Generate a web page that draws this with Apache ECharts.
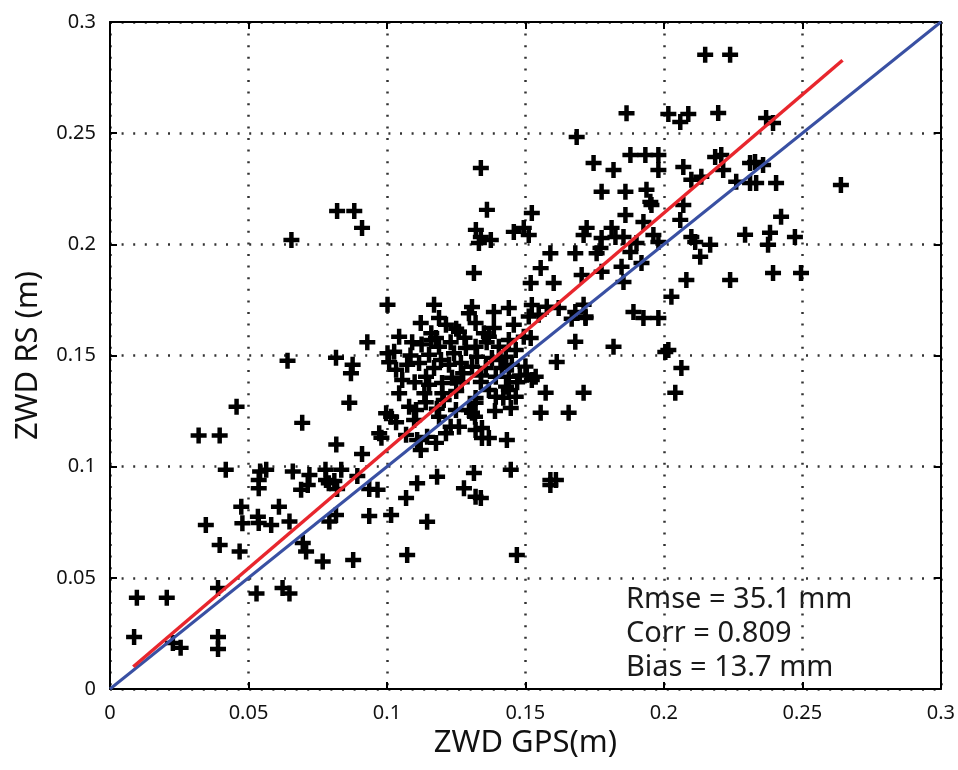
<!DOCTYPE html>
<html>
<head>
<meta charset="utf-8">
<script src="https://cdn.jsdelivr.net/npm/echarts@6/dist/echarts.min.js"></script>
<style>
  html, body { margin: 0; padding: 0; background: #fff; }
  #chart { width: 958px; height: 770px; }
</style>
</head>
<body>
<div id="chart"></div>
<script>
// ZWD from GPS (x) vs radiosonde (y), metres
const gpsZwd = [
    0.0097, 0.0205, 0.0087, 0.0227, 0.0255, 0.039, 0.039, 0.039, 0.0529, 0.0623,
    0.0648, 0.0457, 0.032, 0.0396, 0.0418, 0.0694, 0.0817, 0.0346, 0.0396, 0.0468,
    0.0474, 0.0478, 0.0534, 0.0537, 0.0582, 0.061, 0.0648, 0.0696, 0.0708, 0.0768,
    0.0792, 0.0542, 0.0564, 0.0537, 0.0537, 0.066, 0.072, 0.0714, 0.069, 0.0778,
    0.078, 0.079, 0.082, 0.0655, 0.0641, 0.082, 0.0882, 0.091, 0.0816, 0.0876,
    0.087, 0.0864, 0.0972, 0.098, 0.091, 0.0893, 0.0936, 0.0936, 0.0878, 0.0929,
    0.1002, 0.1044, 0.1091, 0.1002, 0.1026, 0.1008, 0.1033, 0.1044, 0.1073, 0.108,
    0.0997, 0.1015, 0.1033, 0.1105, 0.1098, 0.1122, 0.117, 0.1188, 0.1213, 0.1177,
    0.1188, 0.1152, 0.1116, 0.117, 0.1141, 0.1199, 0.1152, 0.126, 0.1285, 0.1242,
    0.1224, 0.1267, 0.1307, 0.1296, 0.1314, 0.132, 0.132, 0.1188, 0.1249, 0.1296,
    0.126, 0.1213, 0.1145, 0.1109, 0.1177, 0.1069, 0.132, 0.1318, 0.132, 0.1122,
    0.0835, 0.081, 0.0966, 0.0816, 0.1015, 0.1069, 0.1109, 0.1181, 0.1145, 0.1073,
    0.1278, 0.1314, 0.132, 0.1555, 0.159, 0.168, 0.1757, 0.1519, 0.1602, 0.1703,
    0.1775, 0.144, 0.1523, 0.1577, 0.162, 0.1512, 0.1548, 0.1717, 0.168, 0.1386,
    0.1386, 0.1458, 0.1368, 0.144, 0.1494, 0.1519, 0.1404, 0.1465, 0.168, 0.1818,
    0.1613, 0.1325, 0.1379, 0.1429, 0.1307, 0.1357, 0.1415, 0.1451, 0.1393, 0.144,
    0.1339, 0.1505, 0.1537, 0.1523, 0.1368, 0.144, 0.132, 0.1393, 0.1465, 0.1573,
    0.171, 0.1307, 0.1656, 0.1555, 0.1447, 0.1343, 0.1343, 0.1368, 0.1433, 0.1447,
    0.1339, 0.159, 0.159, 0.161, 0.1469, 0.1746, 0.1818, 0.1879, 0.1933, 0.198,
    0.198, 0.207, 0.2099, 0.2185, 0.1775, 0.1861, 0.1937, 0.1951, 0.1955, 0.207,
    0.1861, 0.1926, 0.1721, 0.1811, 0.171, 0.1775, 0.1825, 0.1854, 0.1901, 0.1962,
    0.198, 0.1771, 0.1879, 0.2059, 0.2099, 0.2113, 0.2131, 0.2167, 0.1847, 0.1919,
    0.2081, 0.171, 0.1717, 0.1667, 0.189, 0.1926, 0.198, 0.2027, 0.2005, 0.2016,
    0.2063, 0.2041, 0.1854, 0.2149, 0.2239, 0.2196, 0.2369, 0.2394, 0.2207, 0.2214,
    0.2311, 0.2329, 0.2358, 0.2261, 0.2311, 0.2333, 0.2405, 0.2639, 0.2135, 0.2423,
    0.2293, 0.2383, 0.2376, 0.2473, 0.2239, 0.2394, 0.2495, 0.1339, 0.1361, 0.1523,
    0.1321, 0.1339, 0.1375, 0.1332, 0.1458, 0.1494, 0.1512, 0.1865, 0.2016, 0.2059,
    0.2088, 0.1685,
    // denser centre of the cloud
    0.1055, 0.1085, 0.1125, 0.1135, 0.1160, 0.1195, 0.1230, 0.1235, 0.1270, 0.1280,
    0.1205, 0.1250, 0.1100, 0.1140, 0.1180, 0.1230, 0.1275, 0.1340, 0.1360, 0.1410,
    0.1420, 0.1470, 0.1480, 0.1350, 0.1390, 0.1250, 0.1200, 0.1160, 0.1430, 0.1500
];
const rsZwd = [
    0.041, 0.041, 0.0234, 0.0207, 0.0185, 0.0234, 0.018, 0.0454, 0.043, 0.0454,
    0.043, 0.127, 0.114, 0.114, 0.0986, 0.1197, 0.110, 0.0738, 0.0648, 0.0618,
    0.082, 0.0745, 0.0775, 0.0747, 0.0738, 0.082, 0.0753, 0.0657, 0.0618, 0.0573,
    0.0753, 0.0978, 0.0986, 0.094, 0.0903, 0.0978, 0.0963, 0.0918, 0.0896, 0.0986,
    0.094, 0.0925, 0.090, 0.202, 0.1476, 0.215, 0.215, 0.2074, 0.149, 0.1458,
    0.142, 0.1287, 0.115, 0.113, 0.1057, 0.0958, 0.090, 0.0778, 0.058, 0.156,
    0.1728, 0.1584, 0.156, 0.151, 0.1517, 0.147, 0.1436, 0.133, 0.1458, 0.127,
    0.124, 0.1224, 0.120, 0.1255, 0.121, 0.1646, 0.1728, 0.1669, 0.1638, 0.1579,
    0.1539, 0.1503, 0.1466, 0.1444, 0.1404, 0.1376, 0.1368, 0.1607, 0.1534, 0.151,
    0.1458, 0.1466, 0.1718, 0.169, 0.1871, 0.1646, 0.1539, 0.1224, 0.1255, 0.1255,
    0.118, 0.115, 0.1134, 0.112, 0.1107, 0.1143, 0.1287, 0.1224, 0.1165, 0.1075,
    0.0986, 0.0936, 0.0896, 0.0783, 0.0783, 0.0859, 0.0925, 0.0955, 0.0752, 0.0603,
    0.0903, 0.0971, 0.0865, 0.1893, 0.196, 0.196, 0.196, 0.1826, 0.1826, 0.1862,
    0.1877, 0.1714, 0.1727, 0.1719, 0.1714, 0.1675, 0.1683, 0.1675, 0.1696, 0.1696,
    0.1624, 0.1638, 0.1584, 0.157, 0.1584, 0.1579, 0.1539, 0.1525, 0.1562, 0.1539,
    0.1471, 0.1494, 0.1489, 0.1494, 0.1449, 0.1444, 0.1444, 0.1458, 0.1404, 0.1404,
    0.1381, 0.1413, 0.1404, 0.139, 0.1345, 0.1345, 0.1309, 0.1314, 0.1314, 0.1332,
    0.1332, 0.1242, 0.1242, 0.1242, 0.1264, 0.1174, 0.1129, 0.1129, 0.112, 0.0986,
    0.0859, 0.094, 0.0918, 0.094, 0.0603, 0.2366, 0.2334, 0.2402, 0.2402, 0.2402,
    0.2334, 0.2348, 0.229, 0.2393, 0.2236, 0.2236, 0.2245, 0.2191, 0.2177, 0.2177,
    0.2132, 0.21, 0.2074, 0.2074, 0.2042, 0.2029, 0.2033, 0.2033, 0.2006, 0.2042,
    0.2011, 0.1984, 0.1966, 0.211, 0.2033, 0.2011, 0.1944, 0.1998, 0.1899, 0.1916,
    0.184, 0.1728, 0.1669, 0.1665, 0.1696, 0.1669, 0.1669, 0.1764, 0.1516, 0.1525,
    0.1444, 0.1332, 0.1831, 0.2853, 0.2853, 0.2591, 0.2568, 0.2546, 0.2402, 0.2334,
    0.2366, 0.237, 0.2357, 0.2281, 0.2276, 0.2276, 0.2276, 0.2267, 0.2304, 0.2124,
    0.2043, 0.2052, 0.1998, 0.2033, 0.184, 0.1871, 0.1871, 0.2343, 0.2155, 0.2141,
    0.2065, 0.2033, 0.202, 0.2006, 0.2056, 0.2074, 0.2042, 0.259, 0.2586, 0.255,
    0.2586, 0.2483,
    0.1390, 0.1500, 0.1550, 0.1330, 0.1600, 0.1480, 0.1560, 0.1400, 0.1380, 0.1580,
    0.1300, 0.1340, 0.1380, 0.1290, 0.1260, 0.1180, 0.1420, 0.1410, 0.1560, 0.1480,
    0.1310, 0.1380, 0.1410, 0.1600, 0.1250, 0.1620, 0.1330, 0.1570, 0.1360, 0.1450
];

// 1:1 reference line and the fitted line (end points)
const oneToOneX = [0, 0.3];
const oneToOneY = [0, 0.3];
const fitX = [0.0084, 0.2645];
const fitY = [0.0100, 0.2828];

const statLines = ['Rmse = 35.1 mm', 'Corr = 0.809', 'Bias = 13.7 mm'];

const FONT = 'Noto Sans';
const plusPath = 'path://M-1.4,-5 L1.4,-5 L1.4,-1.4 L5,-1.4 L5,1.4 L1.4,1.4 L1.4,5 L-1.4,5 L-1.4,1.4 L-5,1.4 L-5,-1.4 L-1.4,-1.4 Z';

function zip(xs, ys) {
    return xs.map((x, i) => [x, ys[i]]);
}

const gridLine = {
    show: true,
    lineStyle: { color: '#333', width: 2.5, type: [2, 9.6] }
};

function mainAxis(name, gap, rotate) {
    return {
        type: 'value',
        min: 0, max: 0.3, interval: 0.05,
        name: name,
        nameLocation: 'middle',
        nameGap: gap,
        nameRotate: rotate,
        nameTextStyle: { fontFamily: FONT, fontSize: 31, color: '#111' },
        axisLine: { show: true, onZero: false, lineStyle: { color: '#000', width: 2 } },
        axisTick: { show: true, inside: true, length: 7, lineStyle: { color: '#000', width: 2 } },
        axisLabel: { fontFamily: FONT, fontSize: 20, color: '#111', margin: 14 },
        splitLine: gridLine
    };
}

function frameAxis(pos) {
    return {
        type: 'value',
        position: pos,
        min: 0, max: 0.3, interval: 0.05,
        axisLine: { show: true, onZero: false, lineStyle: { color: '#000', width: 2 } },
        axisTick: { show: true, inside: true, length: 7, lineStyle: { color: '#000', width: 2 } },
        axisLabel: { show: false },
        splitLine: { show: false }
    };
}

const chart = echarts.init(document.getElementById('chart'));

chart.setOption({
    animation: false,
    backgroundColor: '#fff',
    grid: { left: 110, right: 15, top: 22, bottom: 81 },
    xAxis: [mainAxis('ZWD GPS(m)', 36, 0), frameAxis('top')],
    yAxis: [mainAxis('ZWD RS (m)', 66, 90), frameAxis('right')],
    graphic: statLines.map((t, i) => ({
        type: 'text',
        left: 626,
        top: 585 + i * 34,
        style: { text: t, fontFamily: FONT, fontSize: 29, fill: '#1a1a1a' }
    })),
    series: [
        {
            type: 'scatter',
            data: zip(gpsZwd, rsZwd),
            symbol: plusPath,
            symbolSize: 16,
            itemStyle: { color: '#000', opacity: 1 },
            z: 2
        },
        {
            type: 'line',
            data: zip(oneToOneX, oneToOneY),
            symbol: 'none',
            lineStyle: { color: '#3950a3', width: 3 },
            z: 3
        },
        {
            type: 'line',
            data: zip(fitX, fitY),
            symbol: 'none',
            lineStyle: { color: '#e8262d', width: 3.5 },
            z: 4
        }
    ]
});
</script>
</body>
</html>
